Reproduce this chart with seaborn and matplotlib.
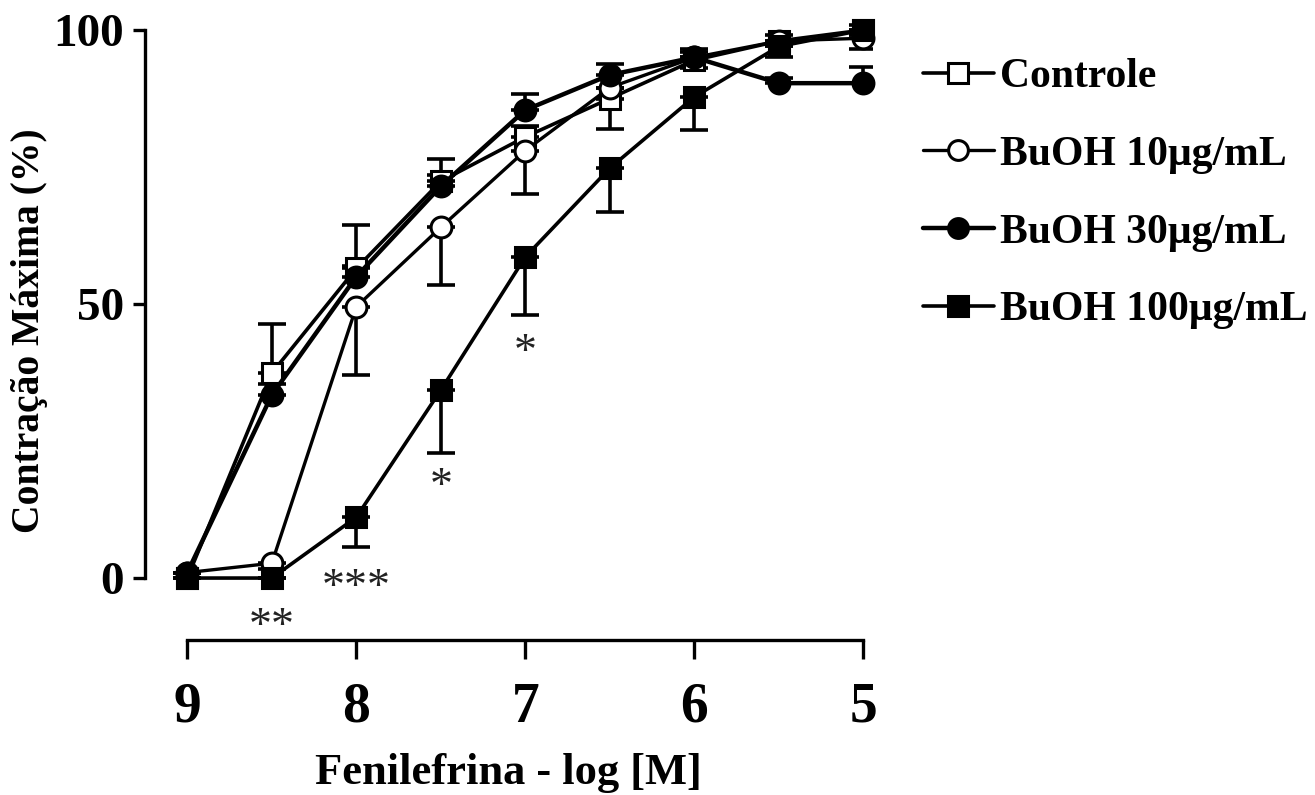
import numpy as np
import pandas as pd
import matplotlib
matplotlib.use("Agg")
import matplotlib.pyplot as plt
import seaborn as sns

# ---- data ----
log_conc = [9, 8.5, 8, 7.5, 7, 6.5, 6, 5.5, 5]
controle = [0, 37.4, 56.5, 72.4, 80.5, 87.5, 94.5, 98, 100]
buoh10 = [1, 2.7, 49.5, 64, 78, 89.5, 95, 98, 98.5]
buoh30 = [1, 33.4, 55, 71.5, 85.4, 91.8, 95, 90.3, 90.3]
buoh100 = [0, 0, 11.1, 34.3, 58.6, 74.8, 87.8, 97, 100]

controle_err_up = [0, 9, 8, 4, 2, 2, 2, 1, 1]
buoh30_err_up = [0, 2, 2, 2, 3, 2, 1, 1, 3]
buoh10_err_low = [0, 1, 12.5, 10.5, 8, 7.5, 2, 1, 2]
buoh100_err_low = [0, 0, 5.4, 11.5, 10.6, 8, 6, 2, 1]

labels = ["Controle", "BuOH 10μg/mL", "BuOH 30μg/mL", "BuOH 100μg/mL"]

signif_x = [8.5, 8, 7.5, 7]
signif_y = [-9, -2, 16.5, 41]
signif_txt = ["**", "***", "*", "*"]

# ---- style ----
sns.set_style("ticks")
plt.rcParams["font.family"] = ["Liberation Serif", "DejaVu Serif"]
plt.rcParams["font.weight"] = "bold"
for k in ["text.color", "axes.labelcolor", "xtick.color", "ytick.color", "axes.edgecolor"]:
    plt.rcParams[k] = "black"

fig = plt.figure(figsize=(13.15, 7.95), dpi=100)
ax = fig.add_axes([0.1103, 0.195, 0.663 - 0.1103, 0.9726 - 0.195])

series = [
    (controle, "s", "white", [np.zeros(9), controle_err_up], 2.6),
    (buoh10, "o", "white", [buoh10_err_low, np.zeros(9)], 2.4),
    (buoh30, "o", "black", [np.zeros(9), buoh30_err_up], 3.2),
    (buoh100, "s", "black", [buoh100_err_low, np.zeros(9)], 2.6),
]

for (vals, mk, fc, yerr, lw), lab in zip(series, labels):
    yerr_arr = np.array([np.asarray(yerr[0], float), np.asarray(yerr[1], float)])
    ax.errorbar(log_conc, vals, yerr=yerr_arr, fmt="none", ecolor="black",
                elinewidth=2.6, capsize=10, capthick=2.6, zorder=2)
    df = pd.DataFrame({"x": log_conc, "y": vals})
    sns.lineplot(data=df, x="x", y="y", ax=ax, color="black", linewidth=lw,
                 marker=mk, markersize=15, markerfacecolor=fc,
                 markeredgecolor="black", markeredgewidth=2.2,
                 label=lab, zorder=3, clip_on=False, estimator=None)

for sx, sy, st in zip(signif_x, signif_y, signif_txt):
    ax.text(sx, sy, st, ha="center", va="center", fontsize=33,
            fontweight="normal", family=["Liberation Serif"], color="#222222")

ax.set_xlim(9.25, 4.95)
ax.set_ylim(-11.3, 101.5)
ax.set_xticks([9, 8, 7, 6, 5])
ax.set_xticklabels(["9", "8", "7", "6", "5"])
ax.set_yticks([0, 50, 100])

for s in ["top", "right"]:
    ax.spines[s].set_visible(False)
ax.spines["left"].set_bounds(0, 100)
ax.spines["bottom"].set_bounds(9, 5)
ax.spines["left"].set_linewidth(2.4)
ax.spines["bottom"].set_linewidth(2.4)
ax.tick_params(axis="y", direction="out", length=9, width=2.4, labelsize=34, pad=6)
ax.tick_params(axis="x", direction="out", length=14, width=2.4, labelsize=40, pad=16)
for t in ax.get_xticklabels() + ax.get_yticklabels():
    t.set_fontweight("bold")

ax.set_xlabel("Fenilefrina - log [M]", fontsize=32, fontweight="bold", labelpad=14)
ax.set_ylabel("Contração Máxima (%)", fontsize=28.5, fontweight="bold", labelpad=4)

leg = ax.legend(loc="upper left", bbox_to_anchor=(0.689, 0.948),
                bbox_transform=fig.transFigure, frameon=False,
                fontsize=30, handlelength=1.7, handletextpad=0.15,
                labelspacing=0.95, markerscale=0.95, borderaxespad=0)
for t in leg.get_texts():
    t.set_fontweight("bold")

fig.savefig("out.png", dpi=100, facecolor="white")
